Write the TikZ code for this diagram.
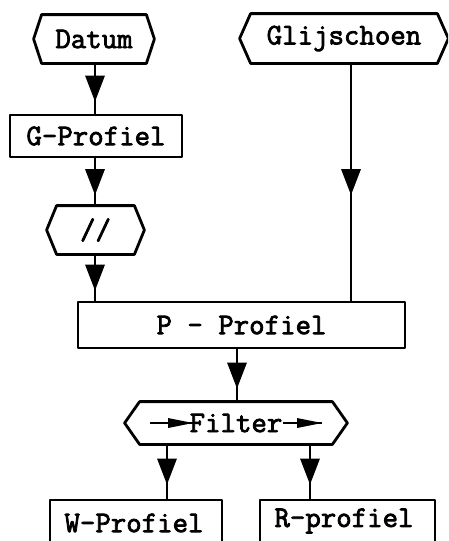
\documentclass[tikz,border=0pt]{standalone}
\usepackage{fontspec}
\newfontfamily\typ{Latin Modern Mono}[FakeBold=2.6]
\usetikzlibrary{decorations.markings,calc}
\newcommand\hexout[2]{\draw ([xshift=#2]#1.north west) -- ([xshift=-#2]#1.north east) -- (#1.east) -- ([xshift=-#2]#1.south east) -- ([xshift=#2]#1.south west) -- (#1.west) -- cycle;}
\begin{document}
\begin{tikzpicture}[x=1pt,y=-1pt,line width=2.8pt,line join=round,
  lbl/.style={font=\fontsize{30}{34}\selectfont\typ,inner sep=0pt},
  hexnode/.style={lbl,minimum width=#1},
  boxnode/.style={lbl,draw,minimum width=#1},
  flow/.style={postaction={decorate},decoration={markings,mark=at position 0.5 with {\fill (13pt,0pt) -- (-13pt,10pt) -- (-13pt,-10pt) -- cycle;}}},
  smallarr/.style={line width=1.8pt,postaction={decorate},decoration={markings,mark=at position 1 with {\fill (0pt,0pt) -- (-25pt,5pt) -- (-25pt,-5pt) -- cycle;}}}]
\useasboundingbox (0,0) rectangle (448,541);
\clip (0,0) rectangle (448,541);
% nodes
\node[hexnode=118pt,minimum height=46pt] (datum) at (94,39) {Datum};
\hexout{datum}{8pt}
\node[boxnode=172pt,minimum height=42pt] (gprof) at (96,136) {G-Profiel};
\node[hexnode=95pt,minimum height=46pt] (sl) at (95.5,230) {//};
\hexout{sl}{10pt}
\node[hexnode=206pt,minimum height=47pt] (glij) at (344,38.5) {Glijschoen};
\hexout{glij}{11pt}
\node[boxnode=327pt,minimum height=46pt] (pprof) at (241.5,325) {P - Profiel};
\node[hexnode=220pt,minimum height=40pt] (filter) at (236,423) {Filter};
\hexout{filter}{15pt}
\node[draw,minimum width=172pt,minimum height=80pt,inner sep=0pt] (wbox) at (136,540) {};
\node[lbl] (wt) at (134,523) {W-Profiel};
\node[draw,minimum width=175pt,minimum height=80pt,inner sep=0pt] (rbox) at (347.5,540) {};
\node[lbl] (rt) at (344,521) {R-profiel};
% small arrows in filter
\coordinate (fl0) at ($(filter.center)+(-86,0)$);
\coordinate (fl1) at ($(filter.center)+(-43,0)$);
\coordinate (fr0) at ($(filter.center)+(47,0)$);
\coordinate (fr1) at ($(filter.center)+(86,0)$);
\draw[smallarr] (fl0) -- (fl1);
\draw[smallarr] (fr0) -- (fr1);
% connectors
\coordinate (d0) at ($(datum.south)+(1,0)$);
\draw[flow] (d0) -- (d0 |- gprof.north);
\coordinate (g0) at ($(gprof.south)+(-1,0)$);
\draw[flow] (g0) -- (g0 |- sl.north);
\coordinate (s0) at ($(sl.south)+(-0.5,0)$);
\draw[flow] (s0) -- (s0 |- pprof.north);
\coordinate (gl0) at ($(glij.south)+(7,0)$);
\draw[flow] (gl0) -- (gl0 |- pprof.north);
\coordinate (p0) at ($(pprof.south)+(-4.5,0)$);
\draw[flow] (p0) -- (p0 |- filter.north);
\coordinate (f1) at ($(filter.south)+(-69,0)$);
\draw[flow] (f1) -- (f1 |- wbox.north);
\coordinate (f2) at ($(filter.south)+(74,0)$);
\draw[flow] (f2) -- (f2 |- rbox.north);
\end{tikzpicture}
\end{document}
